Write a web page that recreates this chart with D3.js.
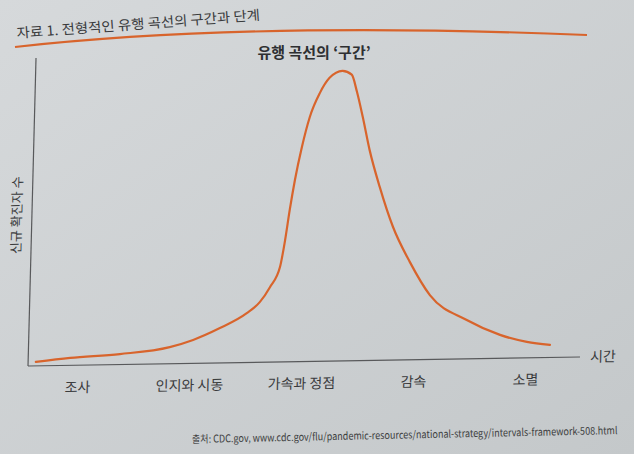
<!DOCTYPE html>
<html><head><meta charset="utf-8">
<script src="https://cdn.jsdelivr.net/npm/d3@7"></script>
<style>html,body{margin:0;padding:0;background:#cfd3d5;} svg{display:block;}</style>
</head><body><svg id="c" width="634" height="454"></svg>
<script>
const figureTitle = "자료 1. 전형적인 유행 곡선의 구간과 단계";
const chartTitle = "유행 곡선의 ‘구간’";
const yAxisLabel = "신규 확진자 수";
const xAxisLabel = "시간";
const sourceNote = "출처: CDC.gov, www.cdc.gov/flu/pandemic-resources/national-strategy/intervals-framework-508.html";
const stages = ["조사", "인지와 시동", "가속과 정점", "감속", "소멸"];
const time = [1.4, 7.6, 16.6, 25.6, 29.8, 34.6, 39.4, 41.7, 43.5, 45.2, 46.0, 46.7, 47.5, 48.6, 49.9, 51.6, 53.3, 55.6, 57.3, 58.3, 59.5, 60.9, 62.9, 65.5, 68.7, 72.5, 79.3, 85.4, 90.3, 94.5];
const newCases = [1.3, 2.4, 3.4, 5.4, 7.6, 11.3, 16.0, 19.5, 24.4, 30.8, 39.5, 49.3, 59.0, 69.6, 79.4, 87.1, 92.0, 94.2, 92.9, 87.5, 79.1, 68.3, 56.3, 43.2, 31.8, 20.9, 12.6, 7.6, 5.2, 4.1];

const FONT = "'Noto Sans CJK KR', 'Noto Sans', sans-serif";
const ORANGE = "#d8642c";
const INK = "#3a3b3d";

const svg = d3.select("#c");
const defs = svg.append("defs");
const grad = defs.append("linearGradient").attr("id", "paper")
  .attr("x1", "0").attr("y1", "0").attr("x2", "1").attr("y2", "1");
grad.append("stop").attr("offset", "0").attr("stop-color", "#d6d9db");
grad.append("stop").attr("offset", "1").attr("stop-color", "#c4c8ca");
svg.append("rect").attr("width", 634).attr("height", 454).attr("fill", "url(#paper)");

// header
svg.append("text")
  .attr("transform", "translate(17,38) rotate(-4.3)")
  .attr("font-family", FONT).attr("font-size", 13.5).attr("fill", INK)
  .attr("textLength", 244).attr("lengthAdjust", "spacingAndGlyphs")
  .text(figureTitle);
svg.append("path")
  .attr("d", "M15,47 Q250,21 587,35")
  .attr("fill", "none").attr("stroke", ORANGE).attr("stroke-width", 2.2);

// chart title
svg.append("text")
  .attr("x", 314).attr("y", 57.5).attr("text-anchor", "middle")
  .attr("font-family", FONT).attr("font-size", 15).attr("font-weight", 700).attr("fill", "#2e2f31")
  .text(chartTitle);

// chart group (slight photo skew)
const g = svg.append("g").attr("transform", "matrix(1,-0.0163,-0.026,1,9.52,0.456)");

const x = d3.scaleLinear().domain([0, 100]).range([28, 580]);
const y = d3.scaleLinear().domain([0, 100]).range([366, 58]);
const xs = d3.scaleBand().domain(stages).range([22, 582]);

g.append("line").attr("x1", x(0)).attr("x2", x(0)).attr("y1", y(0)).attr("y2", y(100))
  .attr("stroke", "#58595b").attr("stroke-width", 1.2);
g.append("line").attr("x1", x(0)).attr("x2", x(100)).attr("y1", y(0)).attr("y2", y(0))
  .attr("stroke", "#58595b").attr("stroke-width", 1.2);

const pts = time.map((t, i) => ({ t, v: newCases[i] }));
g.append("path").datum(pts)
  .attr("d", d3.line().x(d => x(d.t)).y(d => y(d.v)).curve(d3.curveMonotoneX))
  .attr("fill", "none").attr("stroke", ORANGE).attr("stroke-width", 2.2)
  .attr("stroke-linecap", "round");

g.selectAll("text.stage").data(stages).enter().append("text")
  .attr("class", "stage")
  .attr("x", d => xs(d) + xs.bandwidth() / 2).attr("y", 393)
  .attr("text-anchor", "middle")
  .attr("font-family", FONT).attr("font-size", 14).attr("fill", INK)
  .text(d => d);

g.append("text")
  .attr("x", 603).attr("y", 371).attr("text-anchor", "middle")
  .attr("font-family", FONT).attr("font-size", 14).attr("fill", INK)
  .text(xAxisLabel);

g.append("text")
  .attr("transform", "translate(12,215) rotate(-90)")
  .attr("text-anchor", "middle").attr("dominant-baseline", "central")
  .attr("font-family", FONT).attr("font-size", 13).attr("fill", INK)
  .text(yAxisLabel);

// source (condensed by horizontal scale to fit its width)
const src = svg.append("text")
  .attr("font-family", FONT).attr("font-size", 10.5).attr("fill", "#3e3f41")
  .text(sourceNote);
const w = src.node().getComputedTextLength();
src.attr("transform", `translate(192,443) rotate(-1.2) scale(${426 / w},1)`);
</script>
</body></html>
